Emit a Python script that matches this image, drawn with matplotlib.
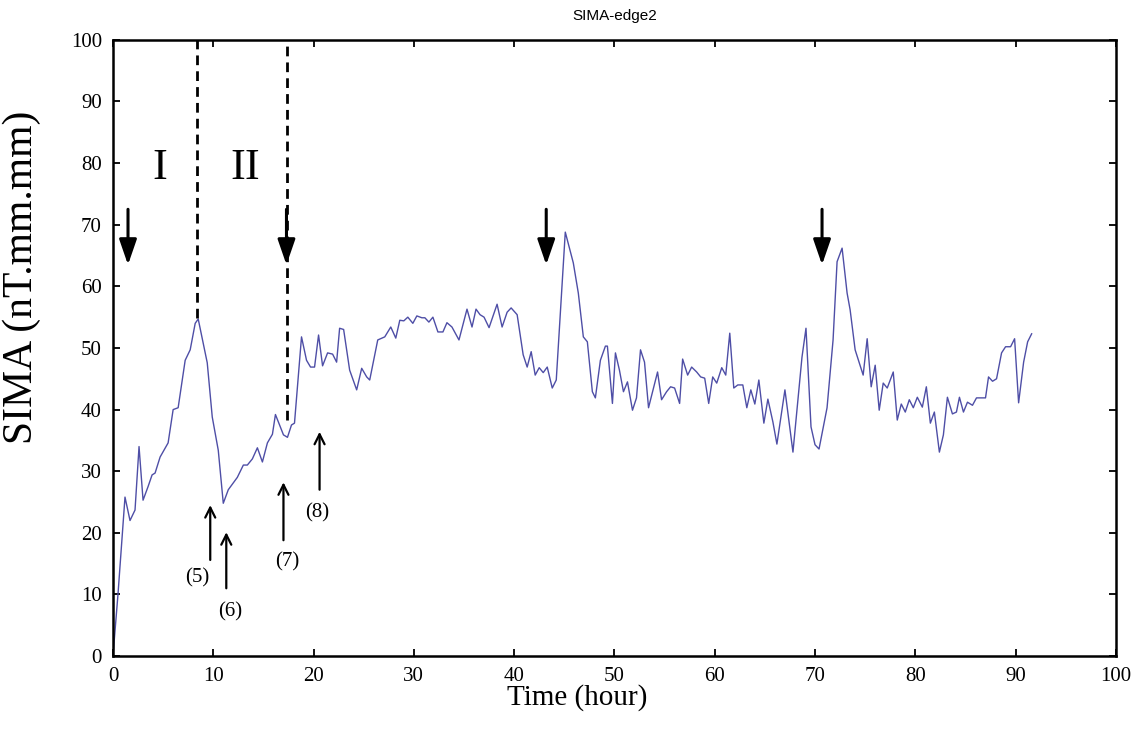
import matplotlib
matplotlib.use("Agg")
import matplotlib.pyplot as plt

# SIMA time series
hours = [
    0.0, 0.5, 1.2, 1.7, 2.2, 2.6, 3.0, 3.5, 3.9, 4.2,
    4.7, 5.5, 6.0, 6.5, 7.2, 7.7, 8.2, 8.5, 9.4, 9.9,
    10.5, 11.0, 11.5, 12.4, 13.0, 13.4, 13.9, 14.4, 14.9, 15.4,
    15.9, 16.2, 17.0, 17.4, 17.8, 18.1, 18.8, 19.3, 19.7, 20.1,
    20.5, 20.9, 21.4, 21.9, 22.3, 22.6, 23.0, 23.6, 24.3, 24.8,
    25.3, 25.6, 26.4, 27.1, 27.7, 28.2, 28.6, 29.0, 29.4, 29.9,
    30.3, 30.8, 31.1, 31.5, 31.9, 32.4, 32.9, 33.3, 33.8, 34.5,
    35.3, 35.8, 36.2, 36.6, 37.0, 37.5, 38.3, 38.8, 39.3, 39.7,
    40.3, 40.9, 41.3, 41.7, 42.1, 42.5, 42.9, 43.3, 43.8, 44.2,
    45.1, 45.9, 46.4, 46.9, 47.3, 47.8, 48.1, 48.6, 49.1, 49.3,
    49.8, 50.1, 50.5, 50.9, 51.3, 51.8, 52.2, 52.6, 53.0, 53.4,
    54.3, 54.7, 55.2, 55.6, 56.0, 56.5, 56.8, 57.3, 57.7, 58.2,
    58.6, 59.0, 59.4, 59.8, 60.2, 60.7, 61.1, 61.5, 61.9, 62.3,
    62.8, 63.2, 63.6, 64.0, 64.4, 64.9, 65.3, 65.8, 66.2, 67.0,
    67.8, 68.7, 69.1, 69.6, 70.0, 70.4, 71.2, 71.8, 72.2, 72.7,
    73.2, 73.5, 74.0, 74.8, 75.2, 75.6, 76.0, 76.4, 76.8, 77.2,
    77.8, 78.2, 78.6, 79.0, 79.4, 79.8, 80.2, 80.7, 81.1, 81.5,
    81.9, 82.4, 82.8, 83.2, 83.7, 84.1, 84.4, 84.8, 85.2, 85.7,
    86.1, 87.0, 87.3, 87.7, 88.1, 88.6, 89.0, 89.5, 89.9, 90.3,
    90.8, 91.2, 91.6,
]
sima = [
    0.0, 10.0, 25.8, 22.0, 23.7, 34.0, 25.3, 27.5, 29.4, 29.7,
    32.3, 34.6, 40.0, 40.3, 48.0, 49.7, 54.0, 54.7, 47.6, 38.8,
    33.4, 24.8, 27.0, 29.0, 31.0, 31.0, 32.0, 33.8, 31.5, 34.6,
    36.0, 39.2, 35.9, 35.5, 37.5, 37.8, 51.8, 48.0, 46.9, 46.9,
    52.1, 47.1, 49.2, 49.0, 47.7, 53.2, 53.0, 46.4, 43.2, 46.7,
    45.3, 44.8, 51.3, 51.8, 53.4, 51.6, 54.5, 54.4, 55.0, 54.0,
    55.2, 54.9, 54.9, 54.2, 55.0, 52.6, 52.6, 54.1, 53.4, 51.3,
    56.3, 53.4, 56.3, 55.4, 55.0, 53.3, 57.1, 53.4, 55.8, 56.5,
    55.4, 48.9, 46.9, 49.4, 45.6, 46.8, 46.0, 46.9, 43.5, 44.8,
    68.8, 63.8, 58.9, 51.8, 51.0, 42.9, 41.9, 48.0, 50.3, 50.3,
    41.0, 49.2, 46.4, 42.9, 44.5, 39.9, 41.9, 49.7, 47.7, 40.3,
    46.1, 41.6, 42.9, 43.7, 43.5, 41.0, 48.2, 45.6, 46.9, 46.1,
    45.3, 45.1, 41.0, 45.3, 44.3, 46.8, 45.6, 52.4, 43.5, 44.0,
    44.0, 40.3, 43.2, 40.9, 44.8, 37.8, 41.7, 38.0, 34.4, 43.2,
    33.1, 48.5, 53.2, 37.2, 34.3, 33.6, 40.3, 51.3, 64.0, 66.2,
    58.9, 56.2, 49.7, 45.6, 51.5, 43.7, 47.2, 39.9, 44.3, 43.5,
    46.1, 38.3, 40.9, 39.6, 41.6, 40.3, 42.0, 40.4, 43.7, 37.8,
    39.6, 33.1, 35.9, 42.0, 39.3, 39.6, 42.0, 39.6, 41.2, 40.7,
    41.9, 41.9, 45.3, 44.6, 45.0, 49.2, 50.2, 50.2, 51.5, 41.1,
    47.7, 51.0, 52.3,
]

# phase boundaries (hour) and where they meet the curve
phase_x = [8.4, 17.4]
phase_y = [54.9, 38.3]
# event arrows (hour)
event_x = [1.5, 17.3, 43.2, 70.7]
# numbered markers: label, hour, tail, head, label position
marks = ["(5)", "(6)", "(7)", "(8)"]
mark_x = [9.7, 11.3, 17.0, 20.6]
mark_tail = [15.6, 11.0, 18.8, 27.0]
mark_head = [24.5, 20.1, 28.2, 36.4]
mark_lx = [8.4, 11.7, 17.4, 20.4]
mark_ly = [12.7, 7.1, 15.3, 23.2]

serif = ["Liberation Serif", "DejaVu Serif"]

fig = plt.figure(figsize=(11.41, 7.38), dpi=100)
ax = fig.add_axes([0.099, 0.111, 0.879, 0.835])

ax.plot(hours, sima, color="#4e4ea6", lw=1.0)

for x, y in zip(phase_x, phase_y):
    ax.plot([x, x], [y, 100], color="black", lw=2, ls=(0, (3.5, 2.2)))

ax.text(4.7, 79.2, "I", fontsize=32, family=serif, ha="center", va="center")
ax.text(13.2, 79.2, "II", fontsize=32, family=serif, ha="center", va="center")

for x in event_x:
    ax.annotate("", xy=(x, 63.5), xytext=(x, 72.5),
                arrowprops=dict(arrowstyle="-|>,head_length=1.1,head_width=0.38",
                                lw=2.2, color="black", mutation_scale=14,
                                shrinkA=0, shrinkB=0))

for lab, x, t0, t1, lx, ly in zip(marks, mark_x, mark_tail, mark_head, mark_lx, mark_ly):
    ax.annotate("", xy=(x, t1), xytext=(x, t0),
                arrowprops=dict(arrowstyle="->,head_length=0.6,head_width=0.3",
                                lw=1.6, color="black", mutation_scale=12,
                                shrinkA=0, shrinkB=0))
    ax.text(lx, ly, lab, fontsize=15, family=serif, ha="center", va="center")

ax.set_xlim(0, 100)
ax.set_ylim(0, 100)
ax.set_xticks(range(0, 101, 10))
ax.set_yticks(range(0, 101, 10))
ax.tick_params(direction="in", top=True, right=True, length=5, width=1.3,
               labelsize=15, pad=8)
for lab in ax.get_xticklabels() + ax.get_yticklabels():
    lab.set_family(serif)
for sp in ax.spines.values():
    sp.set_linewidth(1.8)

ax.set_xlabel("Time (hour)", fontsize=21, family=serif)
ax.xaxis.set_label_coords(0.463, -0.046)
ax.set_ylabel("SIMA (nT.mm.mm)", fontsize=30, family=serif)
ax.yaxis.set_label_coords(-0.072, 0.614)
ax.set_title("SIMA-edge2", fontsize=11, family=["Liberation Sans", "DejaVu Sans"], pad=14)

fig.savefig("out.png", dpi=100)
